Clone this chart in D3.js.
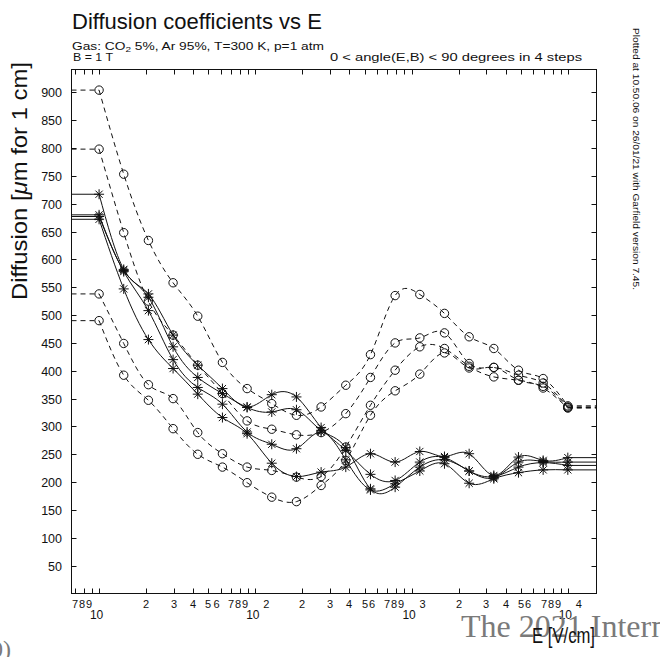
<!DOCTYPE html>
<html>
<head>
<meta charset="utf-8">
<script src="https://cdn.jsdelivr.net/npm/d3@7"></script>
<style>
  body { margin: 0; background: #fff; }
  svg { display: block; }
</style>
</head>
<body>
<svg id="chart" width="660" height="657"></svg>
<script>
// Electric field values (V/cm) at which the diffusion was computed
const fields = [10, 14.38, 20.69, 29.76, 42.81, 61.58, 88.59, 127.4, 183.3, 263.7,
                379.3, 545.6, 784.8, 1129, 1624, 2336, 3360, 4833, 6952, 10000];

// Dashed curves with circle markers, one per angle step (um for 1 cm)
const circleA = [904, 753, 634, 558, 498, 415, 368, 341, 320, 335, 374, 429, 535, 537, 503, 461, 440, 401, 386, 337];
const circleB = [798, 648, 525, 464, 410, 359, 310, 295, 285, 289, 323, 388, 450, 459, 468, 413, 406, 392, 378, 335];
const circleC = [538, 449, 375, 350, 289, 251, 227, 221, 209, 210, 263, 338, 401, 443, 440, 408, 389, 383, 369, 333];
const circleD = [490, 392, 347, 296, 250, 227, 199, 173, 165, 194, 239, 320, 364, 394, 432, 405, 406, 383, 372, 334];

// Solid curves with star markers, one per angle step (um for 1 cm)
const starA = [717, 582, 538, 464, 410, 368, 335, 357, 353, 298, 257, 214, 203, 236, 244, 220, 210, 227, 235, 230];
const starB = [680, 580, 532, 443, 388, 359, 334, 326, 330, 293, 262, 188, 191, 227, 240, 220, 208, 236, 237, 236];
const starC = [677, 578, 508, 420, 370, 340, 290, 268, 260, 290, 240, 186, 197, 220, 233, 198, 206, 217, 222, 222];
const starD = [672, 547, 456, 404, 358, 316, 287, 234, 210, 218, 227, 251, 236, 255, 246, 251, 212, 245, 239, 244];

// Axis ticks
const yTicks = [50, 100, 150, 200, 250, 300, 350, 400, 450, 500, 550, 600, 650, 700, 750, 800, 850, 900];
const xTicks = [7, 8, 9, 10, 20, 30, 40, 50, 60, 70, 80, 90, 100, 200, 300, 400, 500, 600, 700, 800, 900,
                1000, 2000, 3000, 4000, 5000, 6000, 7000, 8000, 9000, 10000];
const xDigitLabels = ["7", "8", "9", "", "2", "3", "4", "5", "6", "7", "8", "9", "", "2", "3", "4", "5", "6", "7", "8", "9",
                      "", "2", "3", "4", "5", "6", "7", "8", "9", ""];
const decadeValues = [10, 100, 1000, 10000];
const decadeExponents = ["", "2", "3", "4"];

const svg = d3.select("#chart");
const frameL = 71.5, frameR = 596.5, frameT = 69.5, frameB = 593.5;

const x = d3.scaleLog().domain([6.66, 15260]).range([frameL, frameR]);
const y = d3.scaleLinear().domain([0, 941]).range([frameB, frameT]);

const ink = "#111";
const sans = "'Liberation Sans', Arial, sans-serif";
const serif = "'Liberation Serif', 'Times New Roman', serif";

svg.append("clipPath").attr("id", "plotclip")
  .append("rect").attr("x", frameL).attr("y", frameT).attr("width", frameR - frameL).attr("height", frameB - frameT);

// Frame
svg.append("rect")
  .attr("x", frameL).attr("y", frameT).attr("width", frameR - frameL).attr("height", frameB - frameT)
  .attr("fill", "none").attr("stroke", ink).attr("stroke-width", 1);

const tickLen = 5;
// Y ticks on both sides, pointing inward
const yt = svg.append("g");
yTicks.forEach(v => {
  const py = Math.round(y(v)) + 0.5;
  yt.append("line").attr("x1", frameL).attr("x2", frameL + tickLen).attr("y1", py).attr("y2", py).attr("stroke", ink);
  yt.append("line").attr("x1", frameR).attr("x2", frameR - tickLen).attr("y1", py).attr("y2", py).attr("stroke", ink);
  yt.append("text").attr("x", 62).attr("y", py + 4.5).attr("text-anchor", "end")
    .attr("font-family", sans).attr("font-size", 12.5).attr("fill", ink).text(v);
});

// X ticks on bottom and top, pointing inward
const xt = svg.append("g");
let prevLabelX = null;
xTicks.forEach((v, i) => {
  const px = Math.round(x(v)) + 0.5;
  xt.append("line").attr("x1", px).attr("x2", px).attr("y1", frameB).attr("y2", frameB - tickLen).attr("stroke", ink);
  xt.append("line").attr("x1", px).attr("x2", px).attr("y1", frameT).attr("y2", frameT + tickLen).attr("stroke", ink);
  const lab = xDigitLabels[i];
  if (!lab) { prevLabelX = null; return; }
  // the closely spaced ticks near the end of a decade get packed digits
  let lx;
  if (prevLabelX !== null && px - prevLabelX < 13) {
    lx = prevLabelX + 7;
  } else if (lab === "6") {
    lx = px - 5;
  } else {
    lx = px - 0.5;
  }
  xt.append("text").attr("x", lx).attr("y", 608).attr("text-anchor", "middle")
    .attr("font-family", sans).attr("font-size", 11).attr("fill", ink).text(lab);
  prevLabelX = lx;
});
decadeValues.forEach((v, i) => {
  const px = x(v);
  xt.append("text").attr("x", px - 2.5).attr("y", 619).attr("text-anchor", "middle")
    .attr("font-family", sans).attr("font-size", 12).attr("fill", ink).text("10");
  if (decadeExponents[i]) {
    xt.append("text").attr("x", px + 8).attr("y", 608).attr("font-family", sans)
      .attr("font-size", 11).attr("fill", ink).text(decadeExponents[i]);
  }
});

// Curves
const plot = svg.append("g").attr("clip-path", "url(#plotclip)");
const curve = d3.line().x((d, i) => x(fields[i])).y(d => y(d)).curve(d3.curveNatural);

function drawSeries(values, dashed) {
  const g = plot.append("g");
  const dash = dashed ? "5,4" : null;
  g.append("path").attr("d", curve(values)).attr("fill", "none").attr("stroke", ink)
    .attr("stroke-width", 1).attr("stroke-dasharray", dash);
  // flat continuation to the frame at both ends
  g.append("line").attr("x1", frameL).attr("x2", x(fields[0])).attr("y1", y(values[0])).attr("y2", y(values[0]))
    .attr("stroke", ink).attr("stroke-dasharray", dash);
  g.append("line").attr("x1", x(fields[fields.length - 1])).attr("x2", frameR)
    .attr("y1", y(values[values.length - 1])).attr("y2", y(values[values.length - 1]))
    .attr("stroke", ink).attr("stroke-dasharray", dash);
  values.forEach((v, i) => {
    const cx = x(fields[i]), cy = y(v);
    if (dashed) {
      g.append("circle").attr("cx", cx).attr("cy", cy).attr("r", 4.2)
        .attr("fill", "none").attr("stroke", ink).attr("stroke-width", 1);
    } else {
      const s = 5, d = 3.6;
      g.append("path")
        .attr("d", `M${cx - s},${cy}L${cx + s},${cy}M${cx},${cy - s}L${cx},${cy + s}` +
                   `M${cx - d},${cy - d}L${cx + d},${cy + d}M${cx - d},${cy + d}L${cx + d},${cy - d}`)
        .attr("stroke", ink).attr("stroke-width", 1).attr("fill", "none");
    }
  });
}
[circleA, circleB, circleC, circleD].forEach(s => drawSeries(s, true));
[starA, starB, starC, starD].forEach(s => drawSeries(s, false));

// Titles and labels
svg.append("text").attr("x", 72).attr("y", 29).attr("font-family", sans).attr("font-size", 22)
  .attr("font-weight", 300).attr("fill", ink).text("Diffusion coefficients vs E");

const gas = svg.append("text").attr("x", 72).attr("y", 50).attr("font-family", sans)
  .attr("font-size", 11).attr("fill", ink).attr("textLength", 252).attr("lengthAdjust", "spacingAndGlyphs");
gas.append("tspan").text("Gas: CO");
gas.append("tspan").attr("font-size", 8).attr("dy", 2).text("2");
gas.append("tspan").attr("dy", -2).text(" 5%, Ar 95%, T=300 K, p=1 atm");

svg.append("text").attr("x", 73).attr("y", 61).attr("font-family", sans).attr("font-size", 11)
  .attr("fill", ink).attr("textLength", 40).attr("lengthAdjust", "spacingAndGlyphs").text("B = 1 T");
svg.append("text").attr("x", 330).attr("y", 61).attr("font-family", sans)
  .attr("font-size", 11).attr("fill", ink).attr("textLength", 252).attr("lengthAdjust", "spacingAndGlyphs")
  .text("0 < angle(E,B) < 90 degrees in 4 steps");

svg.append("text").attr("transform", "translate(633,28) rotate(90)").attr("font-family", sans)
  .attr("font-size", 9.5).attr("fill", ink).attr("textLength", 262).attr("lengthAdjust", "spacingAndGlyphs")
  .text("Plotted at 10.50.06 on 26/01/21 with Garfield version 7.45.");

const ylab = svg.append("text").attr("transform", "translate(27,300) rotate(-90)")
  .attr("font-family", sans).attr("font-size", 22).attr("fill", ink)
  .attr("textLength", 238).attr("lengthAdjust", "spacingAndGlyphs");
ylab.append("tspan").text("Diffusion [");
ylab.append("tspan").attr("font-style", "italic").text("\u03bc");
ylab.append("tspan").text("m for 1 cm]");

svg.append("text").attr("x", 461).attr("y", 637).attr("font-family", serif)
  .attr("font-size", 32).attr("fill", "#7a7a7a").text("The 2021 Intern");
svg.append("text").attr("x", 11).attr("y", 657).attr("text-anchor", "end")
  .attr("font-family", serif).attr("font-size", 24).attr("fill", "#7a7a7a").text("0)");

svg.append("text").attr("x", 532).attr("y", 643).attr("font-family", sans).attr("font-size", 22)
  .attr("fill", ink).attr("textLength", 63).attr("lengthAdjust", "spacingAndGlyphs").text("E [V/cm]");
</script>
</body>
</html>
